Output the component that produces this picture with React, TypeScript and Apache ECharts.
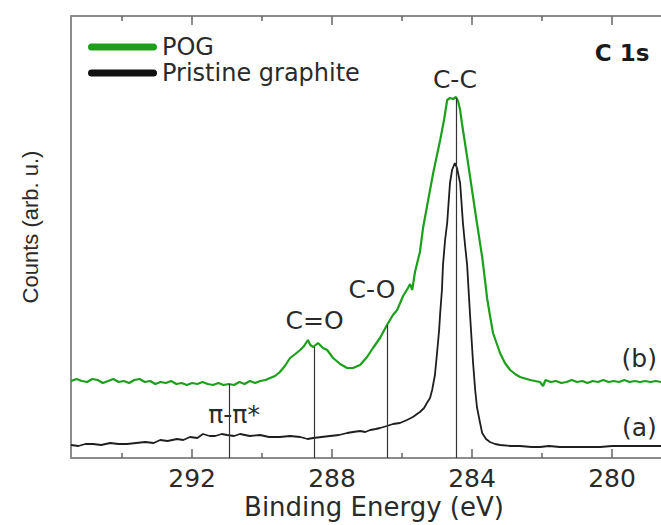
import React, { useEffect, useRef } from "react";
import * as echarts from "echarts";

// ---- Data (binding energy in eV, counts in arbitrary units) ----
const greenEnergy = [
  295.46, 295.3, 295.15, 295.0, 294.85, 294.7, 294.55, 294.4, 294.25, 294.1,
  293.95, 293.8, 293.65, 293.5, 293.35, 293.2, 293.05, 292.9, 292.75, 292.6,
  292.45, 292.3, 292.15, 292.0, 291.85, 291.7, 291.55, 291.4, 291.25, 291.1,
  290.95, 290.8, 290.65, 290.5, 290.35, 290.2, 290.05,
  289.9, 289.77, 289.63, 289.49, 289.35, 289.2, 289.05, 288.91, 288.8, 288.69,
  288.62, 288.54, 288.4, 288.26, 288.14, 287.97, 287.77, 287.57, 287.4, 287.2,
  287.0, 286.83, 286.63, 286.43, 286.26, 286.14, 285.97, 285.83, 285.77, 285.71,
  285.63, 285.49, 285.4, 285.29, 285.11, 284.91, 284.8, 284.71, 284.63, 284.54,
  284.46, 284.4, 284.34, 284.29, 284.14, 284.0, 283.86, 283.71, 283.63, 283.57,
  283.49, 283.4, 283.2, 283.06, 282.91, 282.77, 282.63, 282.34, 282.06, 281.97,
  281.9, 281.75, 281.6, 281.45, 281.3, 281.15, 281.0, 280.85, 280.7, 280.55,
  280.4, 280.25, 280.1, 279.95, 279.8, 279.65, 279.5, 279.35, 279.2, 279.05,
  278.9, 278.75, 278.6,
];
const greenCounts = [
  77, 79, 77, 76, 79, 78, 75, 77, 79, 76,
  77, 75, 78, 79, 76, 77, 74, 76, 75, 77,
  74, 75, 73, 75, 74, 76, 74, 73, 75, 73,
  74, 73, 76, 74, 77, 75, 77,
  78, 80, 82, 86, 92, 100, 104, 108, 112, 118,
  113, 111, 115, 110, 108, 100, 94, 90, 90, 93,
  101, 110, 120, 133, 143, 148, 162, 170, 174, 168,
  186, 206, 230, 251, 285, 318, 338, 358, 360, 359,
  361, 357, 348, 335, 301, 268, 235, 201, 178, 160,
  143, 125, 105, 95, 88, 84, 81, 78, 76, 72,
  78, 76, 77, 75, 76, 78, 76, 77, 75, 77,
  76, 78, 76, 77, 76, 78, 76, 77, 76, 77,
  76, 77, 76,
];

const blackEnergy = [
  295.46, 295.25, 295.05, 294.83, 294.6, 294.34, 294.1, 293.86, 293.6, 293.34,
  293.1, 292.91, 292.7, 292.43, 292.25, 292.06, 291.85, 291.69, 291.5, 291.34,
  291.15, 291.0, 290.8, 290.63, 290.35, 290.06, 289.8, 289.49, 289.2, 288.91,
  288.7, 288.54, 288.3, 288.06, 287.8, 287.57, 287.4, 287.2, 287.05, 286.91,
  286.75, 286.63, 286.43, 286.26, 286.06, 285.86, 285.69, 285.49, 285.37, 285.29,
  285.2, 285.14, 285.06, 285.0, 284.94, 284.91, 284.86, 284.83, 284.77, 284.71,
  284.63, 284.57, 284.49, 284.43, 284.34, 284.26, 284.2, 284.14, 284.09, 284.06,
  283.97, 283.91, 283.86, 283.77, 283.71, 283.6, 283.49, 283.34, 283.2, 282.9,
  282.63, 282.3, 282.06, 281.8, 281.49, 281.0, 280.6, 280.34, 280.0, 279.49,
  279.0, 278.6,
];
const blackCounts = [
  13, 12, 14, 14, 13, 15, 14, 14, 15, 16,
  15, 18, 17, 19, 18, 21, 20, 24, 22, 22,
  24, 23, 22, 24, 22, 23, 21, 21, 22, 21,
  19, 20, 21, 22, 23, 25, 26, 27, 26, 28,
  29, 30, 32, 34, 35, 38, 41, 46, 50, 55,
  60, 68, 83, 105, 128, 145, 168, 193, 218, 235,
  275, 288, 295, 290, 275, 235, 213, 193, 163, 145,
  95, 68, 51, 35, 25, 19, 16, 14, 13, 12,
  12, 11, 11, 12, 11, 11, 11, 11, 12, 12,
  12, 12,
];

// Axis tick values
const majorTicks = [280, 284, 288, 292];
const minorTicks = [282, 286, 290, 294];

// Peak marker lines (energy, height reached on the POG curve)
const markerEnergies = [290.93, 288.51, 286.42, 284.46];
const markerTops = [74, 111, 133, 360];

// Annotation texts and their anchor points in data space
const annotationTexts = ["C-C", "C=O", "C-O", "π-π*", "(b)", "(a)", "C 1s"];
const annotationEnergies = [284.49, 288.5, 286.86, 290.8, 279.22, 279.22, 279.71];
const annotationCounts = [379, 138, 169, 44, 100, 31, 405];

const seriesNames = ["POG", "Pristine graphite"];
const xTitle = "Binding Energy (eV)";
const yTitle = "Counts (arb. u.)";

const FONT = "'DejaVu Sans', sans-serif";
const TEXT = "#2a2a2a";
const AXIS = "#8c8c8c";

export default function App() {
  const ref = useRef<HTMLDivElement>(null);

  useEffect(() => {
    document.body.style.margin = "0";
    if (!ref.current) return;
    const chart = echarts.init(ref.current, undefined, { renderer: "svg" });

    const baseX = {
      type: "value" as const,
      min: 278.6,
      max: 295.46,
      inverse: true,
      splitLine: { show: false },
    };
    const tickStyle = { color: "#666", width: 1.5 };

    chart.setOption({
      animation: false,
      backgroundColor: "#ffffff",
      grid: { left: 71, top: 16, right: 0, bottom: 67, containLabel: false },
      legend: {
        orient: "vertical",
        left: 83,
        top: 30,
        itemGap: 2,
        itemWidth: 69,
        itemHeight: 7,
        selectedMode: false,
        icon: "path://M3.5 0H65.5A3.5 3.5 0 0 1 65.5 7H3.5A3.5 3.5 0 0 1 3.5 0Z",
        textStyle: { fontSize: 24, lineHeight: 24, fontFamily: FONT, color: TEXT },
        data: seriesNames,
      },
      xAxis: [
        {
          ...baseX,
          position: "bottom",
          axisLine: { show: true, onZero: false, lineStyle: { color: AXIS, width: 2 } },
          axisTick: { show: true, inside: true, length: 9, customValues: majorTicks, lineStyle: tickStyle },
          axisLabel: {
            show: true,
            margin: 8,
            fontSize: 25,
            fontFamily: FONT,
            color: TEXT,
            customValues: majorTicks,
          },
        },
        {
          ...baseX,
          position: "bottom",
          axisLine: { show: false, onZero: false },
          axisTick: { show: true, inside: true, length: 5, customValues: minorTicks, lineStyle: tickStyle },
          axisLabel: { show: false },
        },
        {
          ...baseX,
          position: "top",
          axisLine: { show: true, onZero: false, lineStyle: { color: AXIS, width: 2 } },
          axisTick: { show: true, inside: true, length: 9, customValues: majorTicks, lineStyle: tickStyle },
          axisLabel: { show: false },
        },
        {
          ...baseX,
          position: "top",
          axisLine: { show: false, onZero: false },
          axisTick: { show: true, inside: true, length: 5, customValues: minorTicks, lineStyle: tickStyle },
          axisLabel: { show: false },
        },
      ],
      yAxis: {
        type: "value",
        min: 0,
        max: 442,
        axisLine: { show: true, onZero: false, lineStyle: { color: AXIS, width: 2 } },
        axisTick: { show: false },
        axisLabel: { show: false },
        splitLine: { show: false },
      },
      series: [
        {
          name: seriesNames[0],
          type: "line",
          xAxisIndex: 0,
          symbol: "none",
          data: greenEnergy.map((e, i) => [e, greenCounts[i]]),
          lineStyle: { color: "#1ca01c", width: 2.2 },
          itemStyle: { color: "#1ca01c" },
          z: 3,
        },
        {
          name: seriesNames[1],
          type: "line",
          xAxisIndex: 0,
          symbol: "none",
          data: blackEnergy.map((e, i) => [e, blackCounts[i]]),
          lineStyle: { color: "#1e1e1e", width: 1.8 },
          itemStyle: { color: "#111111" },
          z: 3,
          markLine: {
            silent: true,
            symbol: ["none", "none"],
            label: { show: false },
            lineStyle: { color: "#333", width: 1.2, type: "solid" },
            data: markerEnergies.map((e, i) => [
              { coord: [e, 0] },
              { coord: [e, markerTops[i]] },
            ]),
          },
        },
        {
          name: "annotations",
          type: "scatter",
          xAxisIndex: 0,
          symbolSize: 1,
          itemStyle: { color: "rgba(0,0,0,0)" },
          silent: true,
          z: 5,
          label: {
            show: true,
            position: "inside",
            formatter: "{b}",
            fontSize: 25,
            fontFamily: FONT,
            color: TEXT,
            opacity: 1,
          },
          data: annotationTexts.map((t, i) => ({
            name: t,
            value: [annotationEnergies[i], annotationCounts[i]],
            label: t === "C 1s" ? { fontWeight: "bold", fontSize: 23, color: "#1a1a1a" } : undefined,
          })),
        },
      ],
      graphic: [
        {
          type: "text",
          x: 374,
          y: 507,
          style: {
            text: xTitle,
            fontSize: 26,
            fontFamily: FONT,
            fill: TEXT,
            textAlign: "center",
            textVerticalAlign: "middle",
          },
        },
        {
          type: "text",
          x: 30,
          y: 227,
          rotation: Math.PI / 2,
          style: {
            text: yTitle,
            fontSize: 22,
            fontFamily: "'Liberation Sans', Arial, sans-serif",
            fill: TEXT,
            textAlign: "center",
            textVerticalAlign: "middle",
          },
        },
      ],
    });

    return () => chart.dispose();
  }, []);

  return <div ref={ref} style={{ width: 661, height: 525, background: "#fff" }} />;
}
